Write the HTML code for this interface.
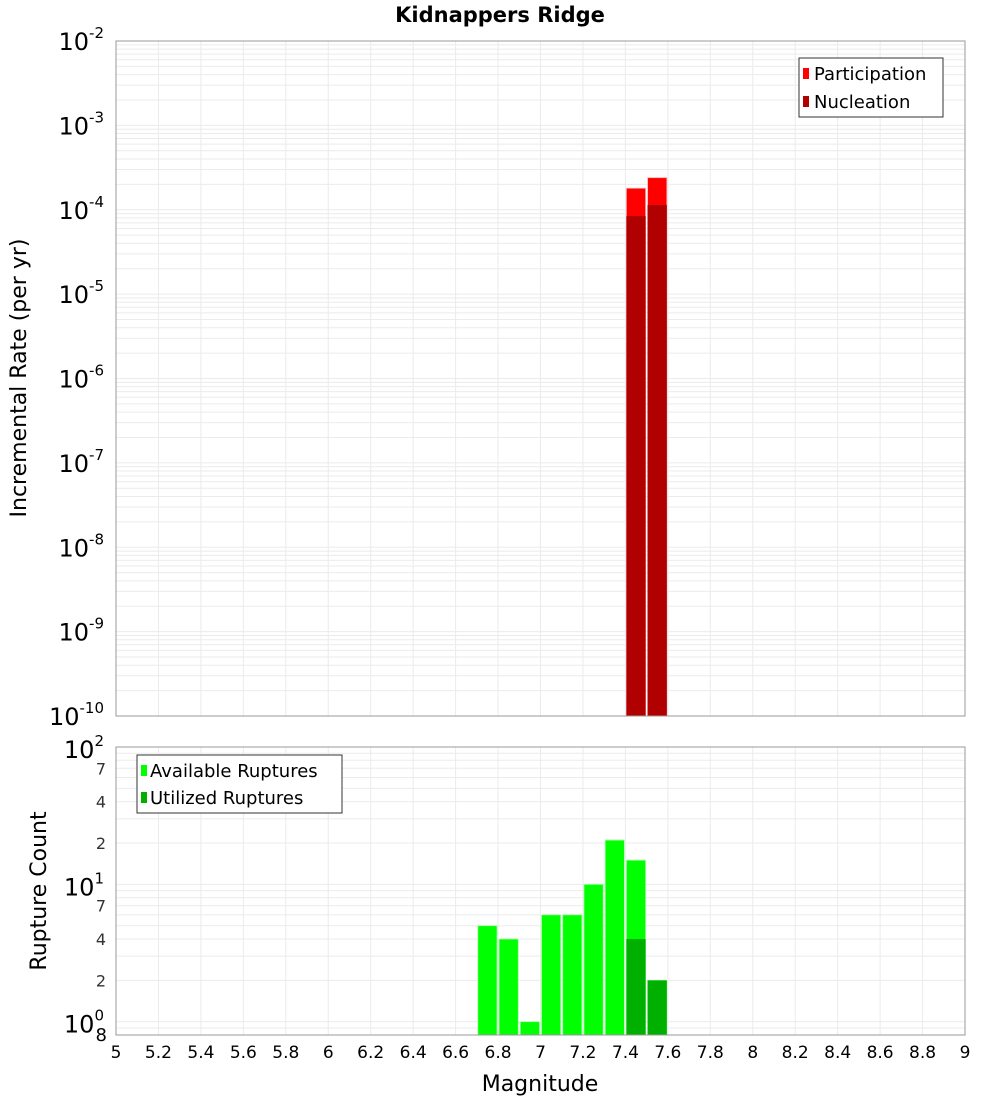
<!DOCTYPE html>
<html><head><meta charset="utf-8"><style>
body{margin:0;background:#fff;font-family:"DejaVu Sans","Liberation Sans",sans-serif}
svg text{font-family:"DejaVu Sans","Liberation Sans",sans-serif}
</style></head><body>
<svg id="c" width="1000" height="1100" xmlns="http://www.w3.org/2000/svg">
<rect width="1000" height="1100" fill="#fff"/>
<text x="500" y="22" text-anchor="middle" font-size="21" font-weight="bold">Kidnappers Ridge</text>
<g id="topg"></g>
<g id="botg"></g>
<text transform="translate(26,378) rotate(-90)" text-anchor="middle" font-size="22">Incremental Rate (per yr)</text>
<text transform="translate(46,891) rotate(-90)" text-anchor="middle" font-size="22">Rupture Count</text>
<text x="540" y="1091" text-anchor="middle" font-size="22">Magnitude</text>
</svg>
<script>
const ratesMags=[7.45,7.55];
const participation=[1.8e-4,2.4e-4];
const nucleation=[8.4e-5,1.14e-4];
const countMags=[6.75,6.85,6.95,7.05,7.15,7.25,7.35,7.45,7.55];
const available=[5,4,1,6,6,10,21,15,2];
const utilized=[0,0,0,0,0,0,0,4,2];
const xTicks=["5","5.2","5.4","5.6","5.8","6","6.2","6.4","6.6","6.8","7","7.2","7.4","7.6","7.8","8","8.2","8.4","8.6","8.8","9"];
const topExps=[-2,-3,-4,-5,-6,-7,-8,-9,-10];
const botMinor=[2,4,7];

const NS="http://www.w3.org/2000/svg";
const L=116,R=965,TT=41,TB=716,BT=747,BB=1035;
const xs=m=>L+(m-5)/4*(R-L);
const ty=v=>TT+(-2-Math.log10(v))/8*(TB-TT);
const by=v=>BT+(Math.log10(100)-Math.log10(v))/Math.log10(100/0.8)*(BB-BT);
function mk(p,tag,a,txt){const e=document.createElementNS(NS,tag);for(const k in a)e.setAttribute(k,a[k]);if(txt!==undefined)e.textContent=txt;p.appendChild(e);return e;}
const topG=document.getElementById('topg'),botG=document.getElementById('botg');

for(let d=-10;d<-2;d++)for(let k=1;k<10;k++){const y=ty(k*Math.pow(10,d));
const g=mk(topG,'line',{x1:L,x2:R,y1:y,y2:y,stroke:'#ebebeb','stroke-width':1});

}
xTicks.forEach(t=>{const x=xs(+t);
const g=mk(topG,'line',{x1:x,x2:x,y1:TT,y2:TB,stroke:'#ebebeb'});


const g2=mk(botG,'line',{x1:x,x2:x,y1:BT,y2:BB,stroke:'#ebebeb'});


const lb=mk(botG,'text',{x:x,y:1058,'text-anchor':'middle','font-size':17},t);

});
topExps.forEach(e=>{const y=ty(Math.pow(10,e));
const t=mk(topG,'text',{x:104,y:y+9,'text-anchor':'end','font-size':24});


mk(t,'tspan',{},'10');mk(t,'tspan',{dy:-12,'font-size':15},String(e));});
const bw=(R-L)/40;
ratesMags.forEach((m,i)=>{const x=xs(m)-bw/2+1;
const p=mk(topG,'rect',{x:x,y:ty(participation[i]),width:bw-2,height:TB-ty(participation[i]),fill:'#ff0000',stroke:'#ffb0b0','stroke-width':0.8});


const n=mk(topG,'rect',{x:x,y:ty(nucleation[i]),width:bw-2,height:TB-ty(nucleation[i]),fill:'#b00000'});

});
mk(topG,'rect',{x:L,y:TT,width:R-L,height:TB-TT,fill:'none',stroke:'#999'});
const lg=mk(topG,'g',{});


mk(lg,'rect',{x:799,y:58,width:144,height:59,fill:'#fff',stroke:'#333'});
mk(lg,'rect',{x:803,y:68,width:6,height:11,fill:'#ff0000'});
mk(lg,'text',{x:814,y:80,'font-size':18},'Participation');
mk(lg,'rect',{x:803,y:96,width:6,height:11,fill:'#b00000'});
mk(lg,'text',{x:814,y:108,'font-size':18},'Nucleation');

[0.8,0.9,1,2,3,4,5,6,7,8,9,10,20,30,40,50,60,70,80,90].forEach(v=>{const y=by(v);
const g=mk(botG,'line',{x1:L,x2:R,y1:y,y2:y,stroke:'#ebebeb'});

});
[0,1,2].forEach(e=>{const y=by(Math.pow(10,e));
const t=mk(botG,'text',{x:104,y:y+11,'text-anchor':'end','font-size':24});


mk(t,'tspan',{},'10');mk(t,'tspan',{dy:-12,'font-size':15},String(e));
if(e<2)botMinor.forEach(k=>{const s=mk(botG,'text',{x:106,y:by(k*Math.pow(10,e))+6,'text-anchor':'end','font-size':16,fill:'#333'},String(k));

});});
const e8=mk(botG,'text',{x:107,y:1041,'text-anchor':'end','font-size':18},'8');


countMags.forEach((m,i)=>{const x=xs(m)-bw/2+1;
const a=mk(botG,'rect',{x:x,y:by(available[i]),width:bw-2,height:BB-by(available[i]),fill:'#00ff00',stroke:'#aaffaa','stroke-width':0.8});


if(utilized[i]>0){const u=mk(botG,'rect',{x:x,y:by(utilized[i]),width:bw-2,height:BB-by(utilized[i]),fill:'#00b000'});

}});
mk(botG,'rect',{x:L,y:BT,width:R-L,height:BB-BT,fill:'none',stroke:'#999'});
const lb2=mk(botG,'g',{});


mk(lb2,'rect',{x:137,y:755,width:205,height:58,fill:'#fff',stroke:'#333'});
mk(lb2,'rect',{x:141,y:765,width:6,height:11,fill:'#00ff00'});
mk(lb2,'text',{x:150,y:777,'font-size':18},'Available Ruptures');
mk(lb2,'rect',{x:141,y:792,width:6,height:11,fill:'#00b000'});
mk(lb2,'text',{x:150,y:804,'font-size':18},'Utilized Ruptures');
</script>
</body></html>
